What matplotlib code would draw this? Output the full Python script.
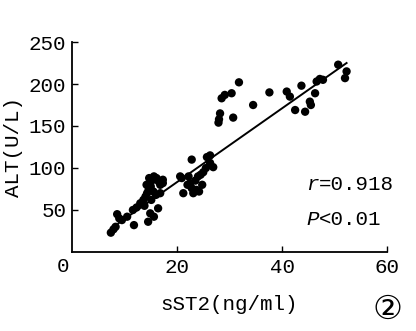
import matplotlib.pyplot as plt
import numpy as np

# DATA
sST2 = [7.4, 7.9, 8.3, 8.6, 9.0, 9.5, 10.5, 11.8, 11.6, 12.3,
        13.0, 13.6, 14.0, 14.3, 14.6, 15.0, 15.2, 15.6, 14.7, 16.1,
        16.5, 16.8, 15.5, 16.0, 16.8, 15.1, 14.5, 14.9, 15.6, 16.4,
        13.8, 14.2, 17.3, 17.3, 20.6,
        20.9, 21.2, 22.0, 22.5, 22.8, 23.1, 22.8, 23.7, 23.5, 24.0,
        24.5, 25.0, 25.7, 26.3, 26.9, 24.2, 22.2, 25.5, 26.3, 24.8,
        27.9, 28.2, 28.5, 29.1, 30.4, 30.7, 31.8, 28.0,
        34.5, 37.6, 40.9, 41.5, 42.5, 43.7, 44.4, 45.3, 46.3, 46.6,
        47.2, 45.5, 50.7, 52.3, 52.0, 47.8]
ALT = [23, 27, 30, 45, 40, 38, 42, 32, 50, 53,
       58, 62, 66, 70, 74, 78, 85, 90, 88, 88,
       84, 80, 72, 68, 70, 62, 36, 46, 42, 52,
       55, 80, 86, 82, 90,
       88, 70, 80, 82, 76, 70, 110, 74, 85, 90,
       92, 95, 113, 106, 101, 72, 90, 100, 115, 80,
       154, 165, 183, 187, 189, 160, 202, 158,
       175, 190, 191, 185, 169, 198, 167, 179, 189, 203,
       206, 175, 223, 215, 207, 205]
fitSlope = 4.39
fitIntercept = -4.6
fitRange = [8.8, 52.3]
rText = '0.918'
pText = '0.01'

# FIGURE
plt.rcParams['font.family'] = ['Liberation Mono', 'DejaVu Sans']
fontSize = 15

fig = plt.figure(figsize = (4.16, 3.31), dpi = 100)
ax = fig.add_axes([0.1731, 0.2387, 0.7572, 0.6344])

ax.scatter(sST2, ALT, s = 36, color = 'black', edgecolors = 'none', zorder = 3)
fitX = np.array(fitRange)
ax.plot(fitX, fitSlope * fitX + fitIntercept, color = 'black', linewidth = 1.4, zorder = 2)

ax.set_xlim(0, 60)
ax.set_ylim(0, 250)
ax.set_xticks([20, 40, 60])
ax.set_yticks([50, 100, 150, 200, 250])
ax.tick_params(direction = 'in', length = 4.5, width = 1, labelsize = fontSize, pad = 4)
for side in ['top', 'right']:
    ax.spines[side].set_visible(False)
for side in ['left', 'bottom']:
    ax.spines[side].set_linewidth(1.3)

# shared origin label
ax.text(-1.8, -6, '0', fontsize = fontSize, ha = 'center', va = 'top')

ax.set_xlabel('sST2(ng/ml)', fontsize = fontSize, labelpad = 13)
ax.set_ylabel('ALT(U/L)', fontsize = fontSize, labelpad = 4)

# STATISTICS
ax.text(44.6, 74, 'r', fontsize = fontSize, style = 'italic', va = 'baseline')
ax.annotate('=' + rText, (44.6, 74), xytext = (9, 0), textcoords = 'offset points',
            fontsize = fontSize, va = 'baseline')
ax.text(44.6, 32, 'P', fontsize = fontSize, style = 'italic', va = 'baseline')
ax.annotate('<' + pText, (44.6, 32), xytext = (9, 0), textcoords = 'offset points',
            fontsize = fontSize, va = 'baseline')

fig.text(387 / 416, 1 - 309 / 331, '\u2461', fontsize = 24, ha = 'center', va = 'center',
         family = ['DejaVu Sans'])

plt.savefig('out.png', dpi = 100)
